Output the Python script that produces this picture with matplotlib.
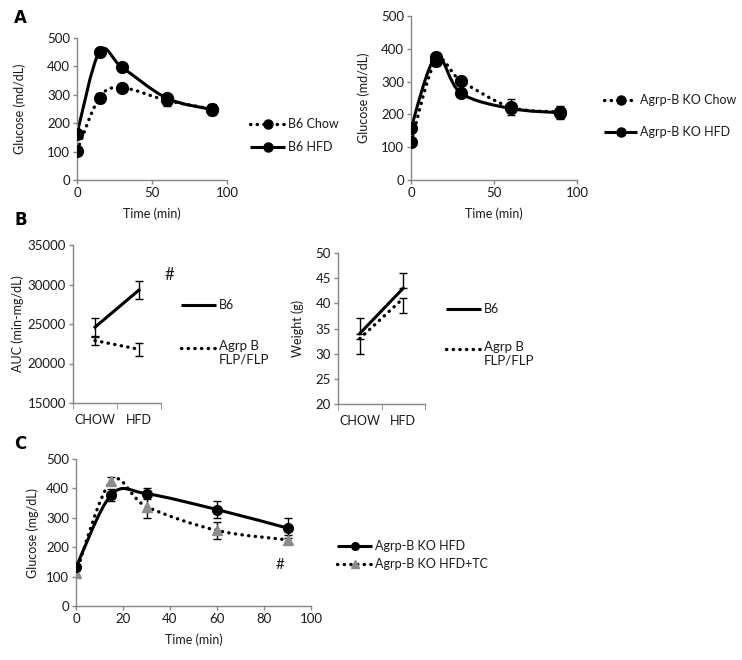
import matplotlib
matplotlib.use("Agg")
import matplotlib.pyplot as plt
from matplotlib.path import Path
from matplotlib.patches import PathPatch
from matplotlib.lines import Line2D

# Panel A: glucose tolerance test
time_a = [0, 15, 30, 60, 90]
b6_chow = [103, 290, 325, 280, 250]
b6_chow_err = [8, 16, 12, 20, 15]
b6_hfd = [163, 452, 397, 288, 248]
b6_hfd_err = [8, 10, 8, 12, 18]
ko_chow = [115, 362, 303, 222, 207]
ko_chow_err = [8, 12, 10, 25, 20]
ko_hfd = [158, 375, 265, 218, 205]
ko_hfd_err = [8, 10, 8, 15, 15]

# Panel B: AUC and body weight
diet = ["CHOW", "HFD"]
auc_b6 = [24600, 29300]
auc_b6_err = [1150, 1100]
auc_agrp = [22900, 21800]
auc_agrp_err = [500, 800]
weight_b6 = [34, 43]
weight_b6_err = [3, 3]
weight_agrp = [33, 41]
weight_agrp_err = [3, 3]

# Panel C: glucose tolerance, HFD vs HFD+TC
time_c = [0, 15, 30, 60, 90]
hfd_c = [132, 378, 382, 328, 265]
hfd_c_err = [10, 20, 18, 28, 35]
hfd_tc = [112, 425, 338, 257, 225]
hfd_tc_err = [10, 15, 40, 28, 15]

W, H = 742, 660
SPINE = "#868686"
TXT = "#1a1a1a"
DOTS = (0, (0.1, 1.9))
FS = 9

plt.rcParams["font.family"] = ["Lato", "DejaVu Sans"]
plt.rcParams["font.size"] = FS


def px_axes(fig, left, top, right, bottom):
    return fig.add_axes([left / W, 1 - bottom / H, (right - left) / W, (bottom - top) / H])


def style(ax):
    for s in ["top", "right"]:
        ax.spines[s].set_visible(False)
    for s in ["left", "bottom"]:
        ax.spines[s].set_color(SPINE)
        ax.spines[s].set_linewidth(1)
    ax.tick_params(direction="out", length=3, width=1, color=SPINE,
                   labelcolor=TXT, labelsize=FS + 0.5, pad=2)


def smooth_path(x, y):
    # excel style smoothed line drawn as cubic bezier segments
    verts = [(x[0], y[0])]
    codes = [Path.MOVETO]
    n = len(x)
    for i in range(n - 1):
        xp, yp = (x[i - 1], y[i - 1]) if i > 0 else (x[i], y[i])
        xn, yn = (x[i + 2], y[i + 2]) if i + 2 < n else (x[i + 1], y[i + 1])
        c1 = (x[i] + (x[i + 1] - xp) / 6, y[i] + (y[i + 1] - yp) / 6)
        c2 = (x[i + 1] - (xn - x[i]) / 6, y[i + 1] - (yn - y[i]) / 6)
        verts += [c1, c2, (x[i + 1], y[i + 1])]
        codes += [Path.CURVE4] * 3
    return Path(verts, codes)


def curve(ax, x, y, err, ls, lw, marker, ms, mfc="black", mec="black"):
    patch = PathPatch(smooth_path(x, y), fill=False, edgecolor="black",
                      linewidth=lw, linestyle=ls, capstyle="round")
    ax.add_patch(patch)
    ax.errorbar(x, y, yerr=err, fmt="none", ecolor="black", elinewidth=1,
                capsize=3, capthick=1)
    ax.plot(x, y, linestyle="none", marker=marker, markersize=ms,
            markerfacecolor=mfc, markeredgecolor=mec, zorder=4)


def legend_entry(fig, px, py, label, ls, lw, marker=None, ms=7,
                 mfc="black", mec="black", length=35):
    x0, x1 = px / W, (px + length) / W
    y = 1 - py / H
    fig.add_artist(Line2D([x0, x1], [y, y], transform=fig.transFigure,
                          color="black", linewidth=lw, linestyle=ls,
                          dash_capstyle="round", solid_capstyle="butt"))
    if marker:
        fig.add_artist(Line2D([(x0 + x1) / 2], [y], transform=fig.transFigure,
                              marker=marker, markersize=ms, linestyle="none",
                              markerfacecolor=mfc, markeredgecolor=mec))
    if "\n" in label:
        fig.text(x1 + 3 / W, y + 8 / H, label, va="top", ha="left",
                 fontsize=FS + 0.5, color=TXT, linespacing=1.15)
    else:
        fig.text(x1 + 3 / W, y, label, va="center", ha="left",
                 fontsize=FS, color=TXT)


def glucose_axes(ax, xticks):
    style(ax)
    ax.set_xlim(0, 100)
    ax.set_ylim(0, 500)
    ax.set_xticks(xticks)
    ax.set_yticks(range(0, 501, 100))
    ax.set_xlabel("Time (min)", color=TXT, fontsize=FS, labelpad=6)


def category_axes(ax, ylim, step):
    style(ax)
    ax.set_xlim(-0.5, 1.5)
    ax.set_ylim(*ylim)
    ax.set_yticks(range(ylim[0], ylim[1] + 1, step))
    ax.set_xticks([0, 1])
    ax.set_xticklabels(diet, fontsize=FS)
    ax.set_xticks([-0.5, 0.5, 1.5], minor=True)
    ax.tick_params(axis="x", which="major", length=0, pad=8)
    ax.tick_params(axis="x", which="minor", length=4, color=SPINE)


def main():
    fig = plt.figure(figsize=(W / 100, H / 100), dpi=100)

    # ---- A left
    ax = px_axes(fig, 77, 38, 227, 180)
    glucose_axes(ax, [0, 50, 100])
    curve(ax, time_a, b6_chow, b6_chow_err, DOTS, 2.4, "o", 8.5)
    curve(ax, time_a, b6_hfd, b6_hfd_err, "-", 2.2, "o", 8.5)
    ax.set_ylabel("Glucose (md/dL)", color=TXT, fontsize=FS, labelpad=15)
    legend_entry(fig, 250, 124, "B6 Chow", DOTS, 2.4, "o", 6.5)
    legend_entry(fig, 250, 147, "B6 HFD", "-", 2.2, "o", 6.5)

    # ---- A right
    ax = px_axes(fig, 411, 16, 577, 180)
    glucose_axes(ax, [0, 50, 100])
    curve(ax, time_a, ko_chow, ko_chow_err, DOTS, 2.4, "o", 8.5)
    curve(ax, time_a, ko_hfd, ko_hfd_err, "-", 2.2, "o", 8.5)
    ax.set_ylabel("Glucose (md/dL)", color=TXT, fontsize=FS, labelpad=8)
    legend_entry(fig, 604, 100, "Agrp-B KO Chow", DOTS, 2.4, "o", 6.5, length=33)
    legend_entry(fig, 604, 132, "Agrp-B KO HFD", "-", 2.2, "o", 6.5, length=33)

    # ---- B left
    ax = px_axes(fig, 73, 245, 161, 403)
    category_axes(ax, (15000, 35000), 5000)
    ax.errorbar([0, 1], auc_b6, yerr=auc_b6_err, color="black", linewidth=2.2,
                elinewidth=1, capsize=3, capthick=1)
    ax.errorbar([0, 1], auc_agrp, yerr=auc_agrp_err, color="black", linewidth=2.4,
                linestyle=DOTS, dash_capstyle="round", elinewidth=1, capsize=3,
                capthick=1)
    ax.text(1.7, 31200, "#", fontsize=12, color=TXT, ha="center", va="center")
    ax.set_ylabel("AUC (min-mg/dL)", color=TXT, fontsize=FS, labelpad=3)
    legend_entry(fig, 181, 305, "B6", "-", 2.2)
    legend_entry(fig, 181, 348, "Agrp B\nFLP/FLP", DOTS, 2.4)

    # ---- B right
    ax = px_axes(fig, 338, 253, 425, 404)
    category_axes(ax, (20, 50), 5)
    ax.errorbar([0, 1], weight_b6, yerr=[[0, 0], weight_b6_err], color="black",
                linewidth=2.2, elinewidth=1, capsize=3, capthick=1)
    ax.errorbar([0, 1], weight_agrp, yerr=[weight_agrp_err, [0, 0]], color="black",
                linewidth=2.4, linestyle=DOTS, dash_capstyle="round", elinewidth=1,
                capsize=3, capthick=1)
    ax.set_ylabel("Weight (g)", color=TXT, fontsize=FS, labelpad=8)
    legend_entry(fig, 446, 309, "B6", "-", 2.2)
    legend_entry(fig, 446, 349, "Agrp B\nFLP/FLP", DOTS, 2.4)

    # ---- C
    ax = px_axes(fig, 76, 459, 311, 606)
    glucose_axes(ax, range(0, 101, 20))
    curve(ax, time_c, hfd_tc, hfd_tc_err, DOTS, 2.4, "^", 7.5,
          mfc="#8c8c8c", mec="#8c8c8c")
    curve(ax, time_c, hfd_c, hfd_c_err, "-", 2.2, "o", 7)
    ax.text(87, 140, "#", fontsize=11, color=TXT, ha="center", va="center")
    ax.set_ylabel("Glucose (mg/dL)", color=TXT, fontsize=FS, labelpad=5)
    legend_entry(fig, 337, 546, "Agrp-B KO HFD", "-", 2.2, "o", 5.5)
    legend_entry(fig, 337, 564, "Agrp-B KO HFD+TC", DOTS, 2.4, "^", 5.5,
                 mfc="#8c8c8c", mec="#8c8c8c")

    # panel letters
    for letter, py in [("A", 18), ("B", 220), ("C", 444)]:
        fig.text(14 / W, 1 - py / H, letter, fontsize=12, fontweight="bold",
                 family="DejaVu Sans", va="center", ha="left", color="black")

    fig.savefig("out.png", dpi=100)


if __name__ == "__main__":
    main()
